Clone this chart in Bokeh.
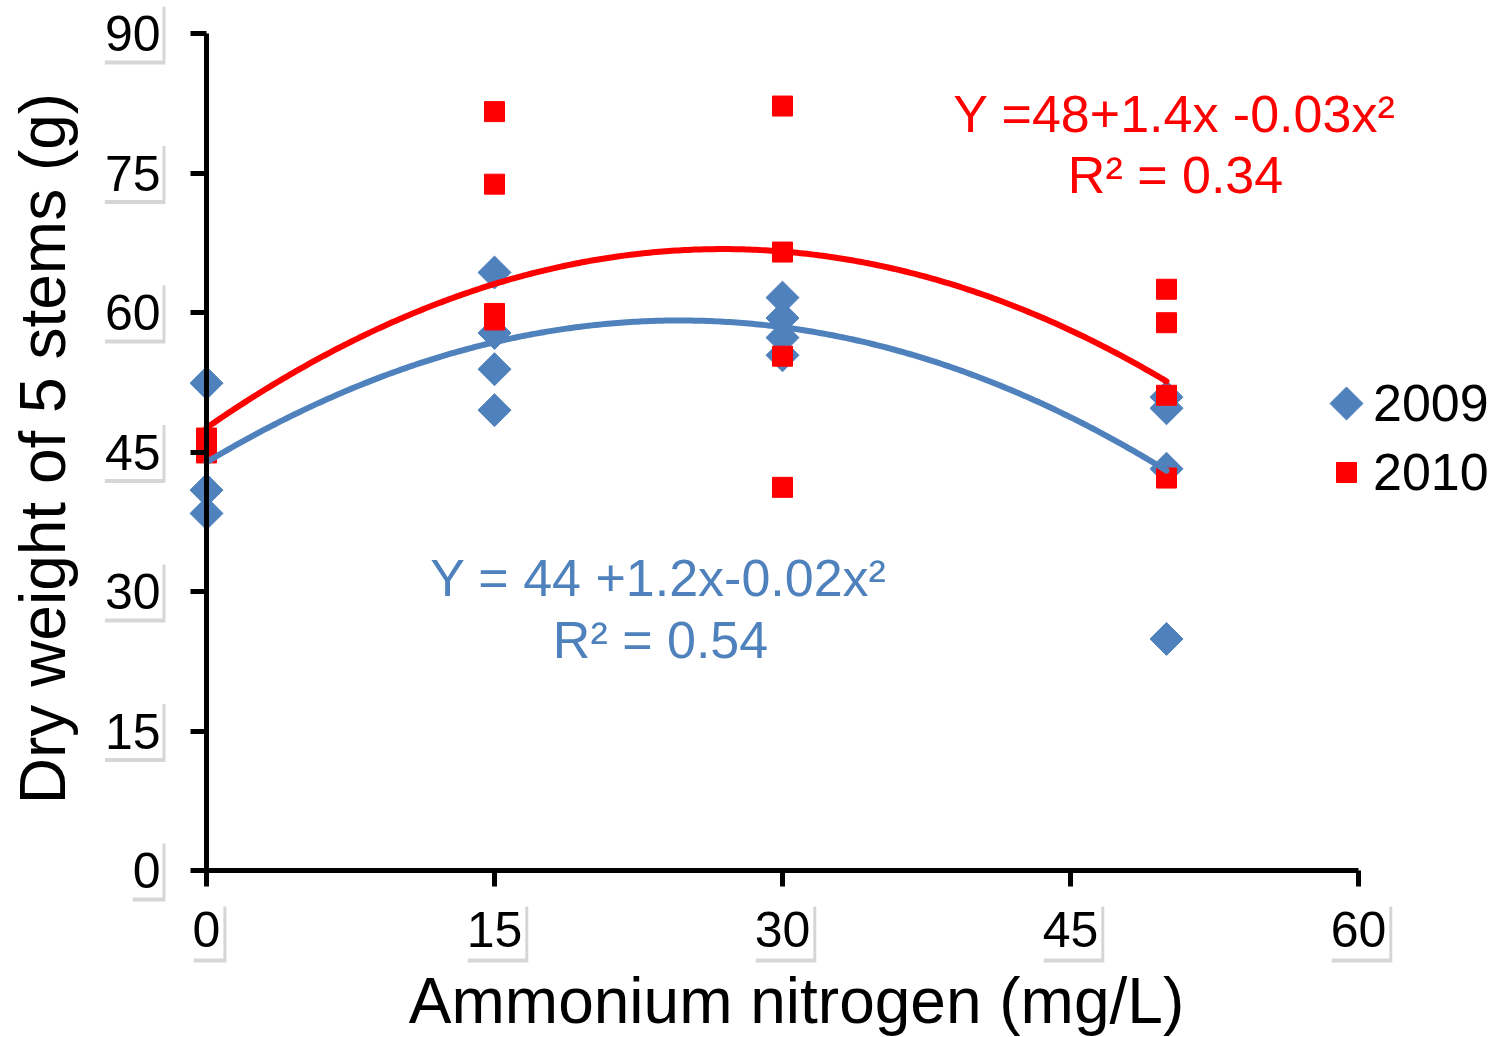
import numpy as np
from bokeh.plotting import figure
from bokeh.models import (FixedTicker, Label, BoxAnnotation, Legend, LegendItem, Range1d, LinearAxis)
from bokeh.embed import file_html
from bokeh.resources import INLINE

# ---- data ----
x_2009 = [0, 0, 0, 15, 15, 15, 15, 30, 30, 30, 30, 50, 50, 50, 50]
y_2009 = [52.4, 40.9, 38.4, 64.3, 57.8, 53.9, 49.5, 61.6, 59.4, 57.3, 55.4, 50.9, 49.7, 43.2, 24.9]
x_2010 = [0, 0, 15, 15, 15, 15, 30, 30, 30, 30, 50, 50, 50, 50]
y_2010 = [46.5, 44.9, 81.6, 73.8, 59.9, 59.2, 82.2, 66.5, 55.3, 41.2, 62.5, 58.9, 51.1, 42.2]
trend_2009 = [43.9, 1.237, -0.0251]   # a, b, c of the drawn quadratic trend line
trend_2010 = [47.6, 1.43, -0.0266]
trend_x_range = [0, 50]
x_ticks = [0, 15, 30, 45, 60]
y_ticks = [0, 15, 30, 45, 60, 75, 90]
eq_2009 = ["Y = 44 +1.2x-0.02x²", "R² = 0.54"]
eq_2010 = ["Y =48+1.4x -0.03x²", "R² = 0.34"]
series_names = ["2009", "2010"]
x_title = "Ammonium nitrogen (mg/L)"
y_title = "Dry weight of 5 stems (g)"

BLUE = "#4F81BD"
RED = "#FF0000"
FONT = "Liberation Sans"

# ---- geometry: the frame covers the whole canvas ----
W, H = 1497, 1037
AX_L, AX_R = 206, 1358      # pixel x of data x=0 and x=60
AX_T, AX_B = 33, 870        # pixel y of data y=90 and y=0
SX = (AX_R - AX_L) / (x_ticks[-1] - x_ticks[0])
SY = (AX_B - AX_T) / (y_ticks[-1] - y_ticks[0])
X0 = -AX_L / SX
X1 = X0 + W / SX
Y0 = -(H - AX_B) / SY
Y1 = Y0 + H / SY


def xd(px):
    return X0 + px / SX


def yd(py):
    return Y1 - py / SY


p = figure(width=W, height=H, x_range=Range1d(X0, X1), y_range=Range1d(Y0, Y1),
           output_backend="svg", toolbar_location=None,
           x_axis_location=None, y_axis_location=None, min_border=0)
p.background_fill_color = "white"
p.border_fill_color = "white"
p.outline_line_color = None
p.xgrid.visible = False
p.ygrid.visible = False

xaxis = LinearAxis(fixed_location=0, ticker=FixedTicker(ticks=x_ticks),
                   bounds=(x_ticks[0], x_ticks[-1]), major_label_standoff=25)
yaxis = LinearAxis(fixed_location=0, ticker=FixedTicker(ticks=y_ticks),
                   bounds=(y_ticks[0], y_ticks[-1]), major_label_standoff=30)
for ax in (xaxis, yaxis):
    ax.axis_line_width = 5
    ax.axis_line_color = "black"
    ax.major_tick_line_width = 5
    ax.major_tick_line_color = "black"
    ax.major_tick_out = 16
    ax.major_tick_in = 0
    ax.minor_tick_line_color = None
    ax.major_label_text_font = FONT
    ax.major_label_text_font_size = "50px"
    ax.major_label_text_color = "black"
p.add_layout(xaxis, "below")
p.add_layout(yaxis, "left")

# white label boxes with soft shadows behind tick labels
DIG = 0.556 * 50
boxes = []
for v in y_ticks:
    w = len(str(v)) * DIG + 4
    py = AX_B - v * SY
    boxes.append((162 - w, 162, py - 30, py + 27))
for v in x_ticks:
    w = len(str(v)) * DIG + 4
    cx = AX_L + v * SX + 1
    boxes.append((cx - w / 2, cx + w / 2, 903, 958))
for l, r, t, b in boxes:
    p.add_layout(BoxAnnotation(left=xd(l + 2), right=xd(r + 3), top=yd(t + 3), bottom=yd(b + 4),
                               fill_color="black", fill_alpha=0.16, line_color=None, level="underlay"))
    p.add_layout(BoxAnnotation(left=xd(l), right=xd(r), top=yd(t), bottom=yd(b),
                               fill_color="white", fill_alpha=1, line_color=None, level="underlay"))

# ---- scatter ----
r09 = p.scatter(x_2009, y_2009, marker="square", size=23.3, angle=np.pi / 4,
                fill_color=BLUE, line_color=BLUE)
r10 = p.scatter(x_2010, y_2010, marker="square", size=20, fill_color=RED, line_color=RED)

# ---- trend lines ----
xs = np.linspace(trend_x_range[0], trend_x_range[1], 300)
for coef, col in ((trend_2009, BLUE), (trend_2010, RED)):
    ys = coef[0] + coef[1] * xs + coef[2] * xs ** 2
    p.line(xs, ys, line_color=col, line_width=6, line_cap="round")

# text placement: baseline pixel minus the renderer's baseline offset
SHIFT = 0.4

# ---- equations ----
for txt, cx, base, col in ((eq_2010[0], 1174, 134, RED), (eq_2010[1], 1175, 195, RED),
                           (eq_2009[0], 658, 598, BLUE), (eq_2009[1], 660, 660, BLUE)):
    p.add_layout(Label(x=xd(cx), y=yd(base - SHIFT * 52), text=txt, text_align="center",
                       text_baseline="alphabetic", text_font=FONT, text_font_size="52px",
                       text_color=col))

# ---- axis titles ----
p.add_layout(Label(x=xd(796), y=yd(1026 - SHIFT * 64), text=x_title, text_align="center",
                   text_baseline="alphabetic", text_font=FONT, text_font_size="64px",
                   text_color="black"))
p.add_layout(Label(x=xd(68 - SHIFT * 64), y=yd(448), text=y_title, text_align="center",
                   angle=np.pi / 2, text_baseline="alphabetic", text_font=FONT,
                   text_font_size="64px", text_color="black"))

# ---- legend ----
# 2009 swatch: the legend draws markers unrotated, so the diamond swatch is drawn beside it
sw09 = p.scatter([xd(1346)], [yd(403)], marker="square", size=23.3, angle=np.pi / 4,
                 fill_color=BLUE, line_color=BLUE)
ghost09 = p.scatter([], [], marker="square", size=1, fill_alpha=0, line_alpha=0)
for name, rend, gw, sd, cy in ((series_names[0], ghost09, 58, 0, 403),
                               (series_names[1], r10, 50, 2, 472)):
    left = 1373 - sd - gw
    lg = Legend(items=[LegendItem(label=name, renderers=[rend])],
                location=(int(left), int(H - (cy + 30))),
                glyph_width=gw, glyph_height=gw, label_standoff=sd,
                margin=0, padding=0, spacing=0, border_line_color=None,
                background_fill_alpha=0, label_text_font=FONT, label_text_font_size="52px",
                label_text_color="black", label_height=60)
    p.add_layout(lg)

open("out.html", "w").write(file_html(p, INLINE))
